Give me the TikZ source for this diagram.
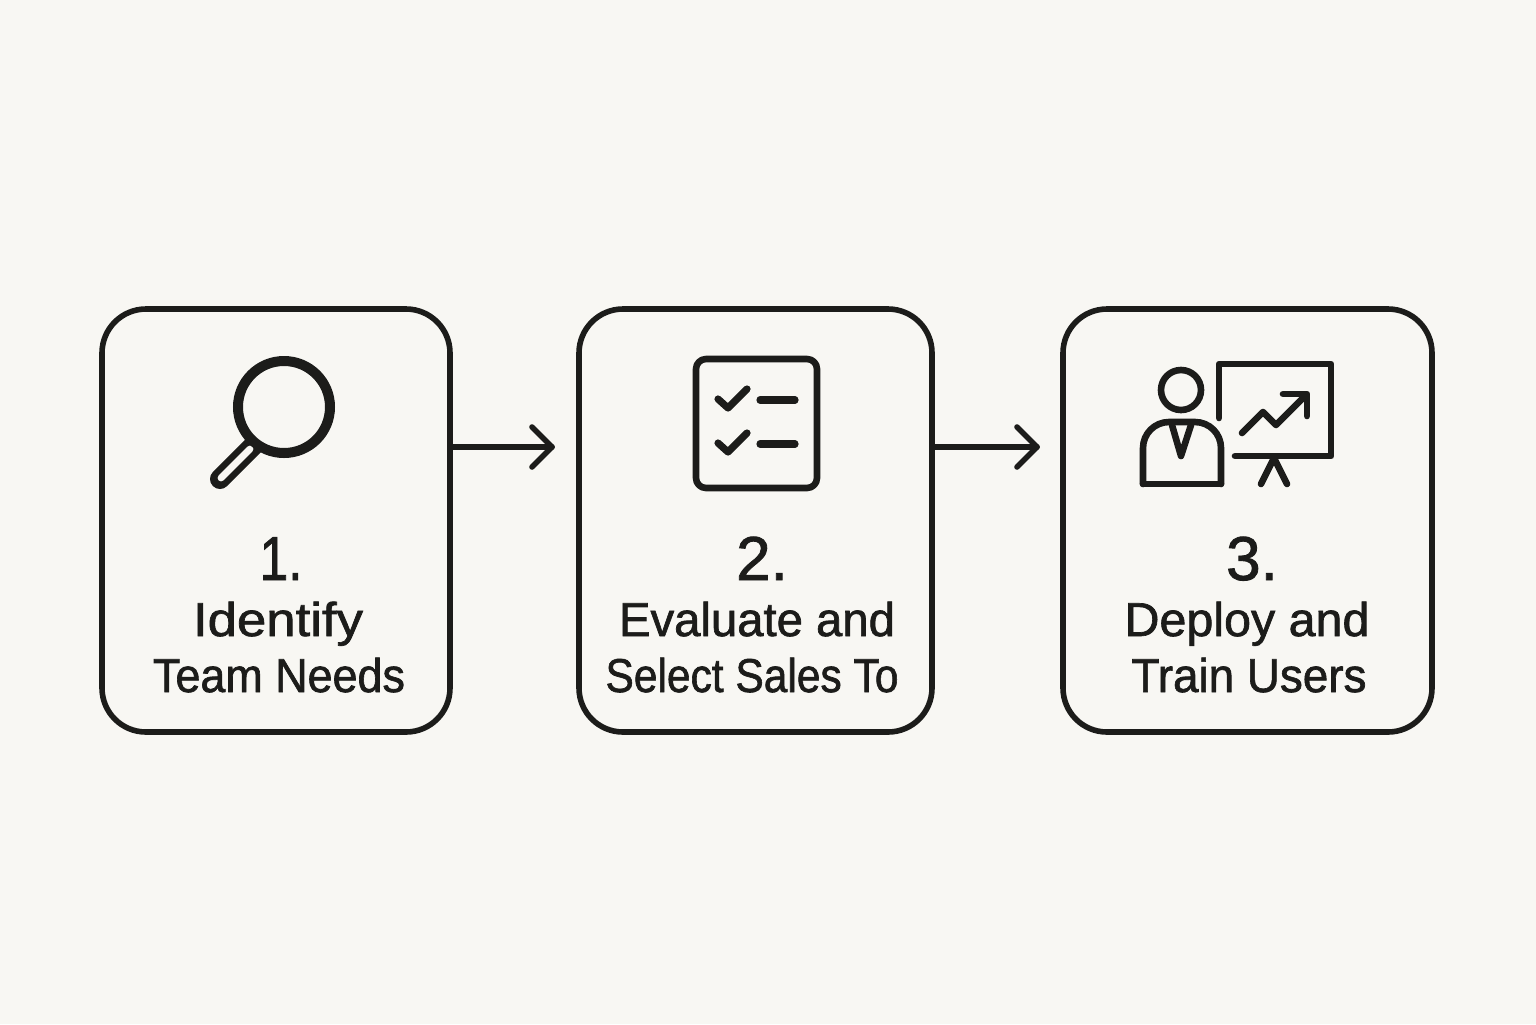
\documentclass[tikz,border=0pt]{standalone}
\usepackage{fontspec}
\usepackage{graphicx}
\setmainfont[FakeBold=1.4]{Liberation Sans}
\definecolor{ink}{HTML}{1C1C1A}
\definecolor{paper}{HTML}{F8F7F3}
\newcommand{\fitw}[2]{\resizebox{\dimexpr #1pt/2\relax}{\height}{#2}}
\tikzset{
  x=0.5pt,y=-0.5pt,
  stepbox/.style={draw=ink,line width=2.8pt,rounded corners=22pt,fill=none,inner sep=0pt},
  flowarrow/.style={draw=ink,line width=2.8pt,line cap=round,line join=round},
  icon/.style={draw=ink,line width=3.3pt,line cap=round,line join=round},
  numtext/.style={text=ink,font=\fontsize{31}{31}\selectfont,anchor=base,inner sep=0pt},
  labeltext/.style={text=ink,font=\fontsize{23.75}{24}\selectfont,anchor=base,inner sep=0pt}
}
\begin{document}
\begin{tikzpicture}
\useasboundingbox (0,0) rectangle (1536,1024);
\fill[paper] (0,0) rectangle (1536,1024);
% boxes
\node[stepbox,minimum width=174pt,minimum height=211.5pt] (boxa) at (276,520.5) {};
\node[stepbox,minimum width=176.5pt,minimum height=211.5pt] (boxb) at (755.5,520.5) {};
\node[stepbox,minimum width=184.5pt,minimum height=211.5pt] (boxc) at (1247.5,520.5) {};
% arrows
\coordinate (enda) at (552,447);
\coordinate (endb) at (1037,447);
\draw[flowarrow] (boxa.east |- enda) -- (enda);
\draw[flowarrow] (532,427) -- (enda) -- (532,467);
\draw[flowarrow] (boxb.east |- endb) -- (endb);
\draw[flowarrow] (1017,427) -- (endb) -- (1017,467);
% magnifier
\draw[ink,line width=10pt,line cap=round] (220,479) -- (256,443);
\draw[paper,line width=3.4pt,line cap=round] (221,478) -- (250,449);
\draw[ink,line width=5pt,fill=paper] (284,407) circle (46);
% checklist
\draw[icon,rounded corners=5pt] (696,359) rectangle (817,488);
\draw[icon,line width=3.6pt] (718,399) -- (728,408) -- (747,389);
\draw[icon,line width=3.6pt] (718,443) -- (728,452) -- (747,433);
\draw[icon,line width=3.6pt] (760,400) -- (795,400);
\draw[icon,line width=3.6pt] (760,444) -- (795,444);
% presenter
\draw[icon] (1181,390) circle (20);
\draw[icon,rounded corners=13pt] (1143,484) -- (1143,422) -- (1221,422) -- (1221,484);
\draw[icon] (1143,484) -- (1221,484);
\draw[icon] (1172,425) -- (1181,456) -- (1191,425);
\draw[icon] (1219,418) -- (1219,364) -- (1331,364) -- (1331,456) -- (1235,456);
\draw[icon] (1274,458) -- (1261,484);
\draw[icon] (1274,458) -- (1287,484);
\draw[icon] (1242,433) -- (1263,412) -- (1276,425) -- (1305,396);
\draw[icon] (1283,394) -- (1307,394) -- (1307,416);
% text
\node[numtext] (na) at (281,580) {\fitw{43}{1.}};
\node[labeltext] (la) at (278,636) {\fitw{170}{Identify}};
\node[labeltext] (lb) at (279,692) {\fitw{252}{Team Needs}};
\node[numtext] (nb) at (762,580) {2.};
\node[labeltext] (lc) at (757,636) {\fitw{276}{Evaluate and}};
\node[labeltext] (ld) at (752,692) {\fitw{293}{Select Sales To}};
\node[numtext] (nc) at (1252,580) {3.};
\node[labeltext] (le) at (1247,636) {\fitw{245}{Deploy and}};
\node[labeltext] (lf) at (1249,692) {\fitw{235}{Train Users}};
\end{tikzpicture}
\end{document}
